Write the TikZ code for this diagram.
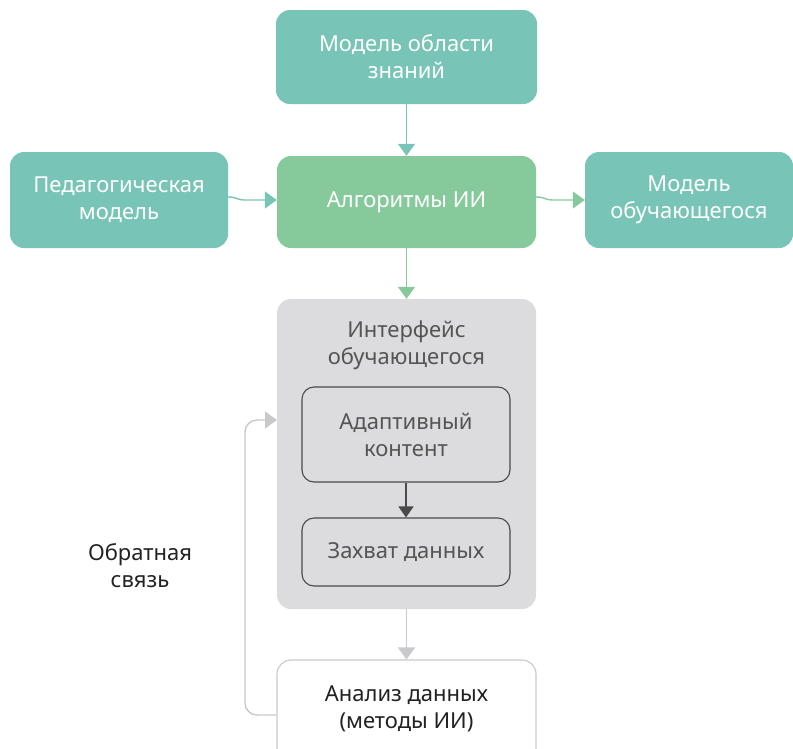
\documentclass[tikz,border=0pt]{standalone}
\usepackage{fontspec}
\setmainfont{Noto Sans}
\usetikzlibrary{arrows.meta}
\definecolor{tealc}{HTML}{78C4B6}
\definecolor{greenc}{HTML}{86CA9B}
\definecolor{grayc}{HTML}{DCDCDE}
\definecolor{darkc}{HTML}{4A4A4A}
\definecolor{lgray}{HTML}{C9C9CB}
\definecolor{txtgray}{HTML}{555555}
\definecolor{txtdark}{HTML}{222222}
\tikzset{
  box/.style={rounded corners=14pt, align=center, inner sep=0pt,
    font=\fontsize{22}{27}\selectfont},
  tealbox/.style={box, fill=tealc, text=white},
  greenbox/.style={box, fill=greenc, text=white},
  innerbox/.style={box, fill=grayc, draw=darkc, line width=1.1pt, rounded corners=12pt, text=txtgray},
  conn/.style={line width=1.4pt, -{Triangle[length=12pt,width=17pt]}},
}
\begin{document}
\begin{tikzpicture}[x=1pt,y=-1pt]
\useasboundingbox (0,0) rectangle (793,748);
\clip (0,0) rectangle (793,748);
\node[tealbox, minimum width=261pt, minimum height=94pt] (top) at (406.5,57) {Модель области\\знаний};
\node[greenbox, minimum width=259pt, minimum height=92pt] (alg) at (406.5,202) {Алгоритмы ИИ};
\node[tealbox, minimum width=218pt, minimum height=96pt] (ped) at (119,200) {Педагогическая\\модель};
\node[tealbox, minimum width=208pt, minimum height=96pt] (stud) at (689,200) {Модель\\обучающегося};
\node[box, fill=grayc, minimum width=259pt, minimum height=310pt] (iface) at (406.5,454) {};
\node[box, text=txtgray] (ifacet) at (406.5,345) {Интерфейс\\обучающегося};
\node[innerbox, minimum width=208pt, minimum height=95pt] (adapt) at (406,434.5) {Адаптивный\\контент};
\node[innerbox, minimum width=208pt, minimum height=68pt] (capt) at (406,552) {Захват данных};
\node[box, fill=white, draw=lgray, line width=1.1pt, minimum width=259pt, minimum height=110pt] (anal) at (406.5,715) {};
\node[box, text=txtdark] (analt) at (406.5,709) {Анализ данных\\(методы ИИ)};
\node[box, text=txtdark] (fbl) at (140,566) {Обратная\\связь};
\coordinate (algw) at ([yshift=2pt]alg.west);
\coordinate (alge) at ([yshift=5pt]alg.east);
\coordinate (studw) at ([yshift=0pt]stud.west);
\draw[conn, draw=tealc] (top.south) -- (alg.north);
\draw[conn, draw=tealc] ([yshift=3pt]ped.east) .. controls +(9,0) and +(-7,0) .. ++(16,3) -- (algw);
\draw[conn, draw=greenc] (alge) .. controls +(9,0) and +(-7,0) .. ++(16,3) -- (studw);
\draw[conn, draw=greenc] (alg.south) -- (iface.north);
\draw[line width=1.4pt, -{Triangle[length=11pt,width=15pt]}, draw=darkc] (adapt.south) -- (capt.north);
\draw[conn, draw=lgray] (iface.south) -- (anal.north);
\coordinate (fbc) at (245,420);
\coordinate (fbin) at (277,420);
\draw[conn, draw=lgray, rounded corners=12pt] (anal.west) -| (fbc) -- (fbin);
\end{tikzpicture}
\end{document}
